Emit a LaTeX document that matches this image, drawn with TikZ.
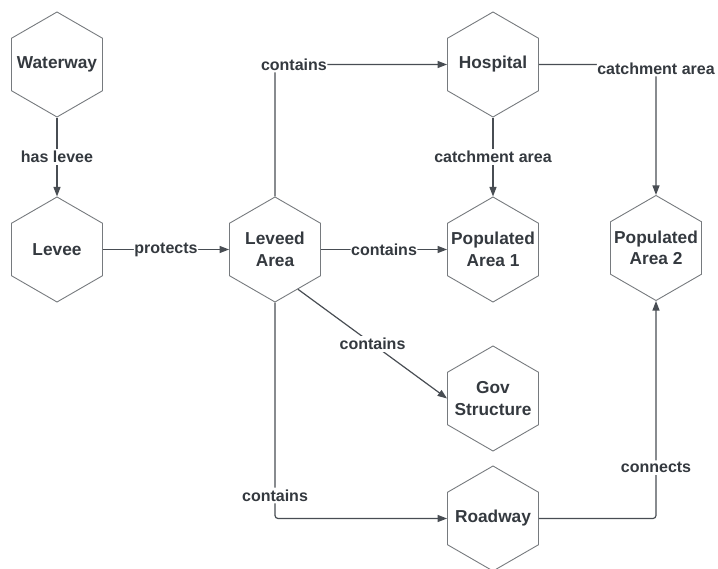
\documentclass[tikz,border=0pt]{standalone}
\usepackage{fontspec}
\setmainfont{Liberation Sans}
\usetikzlibrary{shapes.geometric,arrows.meta}
\definecolor{ink}{RGB}{52,57,63}
\definecolor{wire}{RGB}{72,77,83}
\definecolor{rim}{RGB}{118,122,126}
\begin{document}
\begin{tikzpicture}[x=1pt,y=-1pt,
  hex/.style={regular polygon, regular polygon sides=6, shape border rotate=30,
    minimum size=105pt, inner sep=0pt, draw=rim, line width=0.9pt},
  hextext/.style={text=ink, font=\fontsize{17.3}{21.5}\selectfont\bfseries,
    align=center, inner sep=0pt},
  conn/.style={draw=wire, line width=1.2pt, rounded corners=3pt,
    -{Triangle[length=9.5pt,width=7pt]}},
  lbl/.style={fill=white, text=ink, font=\fontsize{16}{19}\selectfont\bfseries,
    inner xsep=0.5pt, inner ysep=2pt}]
  \useasboundingbox (0,0) rectangle (718,569);

  % entities
  \node[hex, label={[hextext]center:Waterway}] (ww) at (57,64.5) {};
  \node[hex, label={[hextext]center:Levee}] (lv) at (57,249.5) {};
  \node[hex, label={[hextext]center:{Leveed\\Area}}] (la) at (275,249.5) {};
  \node[hex, label={[hextext]center:Hospital}] (hs) at (493,64.5) {};
  \node[hex, label={[hextext]center:{Populated\\Area 1}}] (pa1) at (493,249.5) {};
  \node[hex, label={[hextext]center:{Populated\\Area 2}}] (pa2) at (656,248) {};
  \node[hex, label={[hextext]center:{Gov\\Structure}}] (gv) at (493,398.5) {};
  \node[hex, label={[hextext]center:Roadway}] (rd) at (493,518.5) {};

  % relations
  \draw[conn] (ww.south) -- node[lbl]{has levee} (lv.north);
  \draw[conn] (lv.east) -- node[lbl]{protects} (la.west);
  \draw[conn] (la.north) |- node[lbl,pos=0.555]{contains} (hs.west);
  \draw[conn] (hs.east) -| node[lbl,pos=0.5,yshift=-4pt]{catchment area} (pa2.north);
  \draw[conn] (hs.south) -- node[lbl]{catchment area} (pa1.north);
  \draw[conn] (la.east) -- node[lbl]{contains} (pa1.west);
  \draw[conn] (la.-60) -- node[lbl]{contains} (gv.west);
  \draw[conn] (la.south) |- node[lbl,pos=0.447]{contains} (rd.west);
  \draw[conn] (rd.east) -| node[lbl,pos=0.617]{connects} (pa2.south);
\end{tikzpicture}
\end{document}
